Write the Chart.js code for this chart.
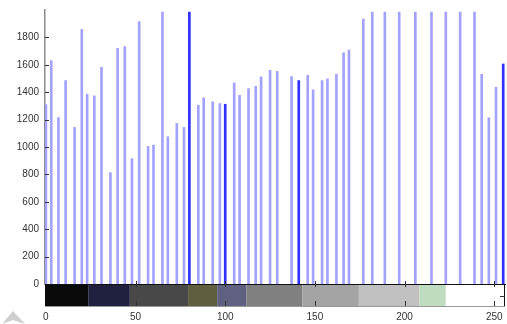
<!DOCTYPE html>
<html><head><meta charset="utf-8">
<script src="https://cdn.jsdelivr.net/npm/chart.js@4.4.0/dist/chart.umd.min.js"></script>
<style>html,body{margin:0;padding:0;background:#fff}#wrap{width:507px;height:324px;position:relative}</style>
</head><body><div id="wrap"><canvas id="c"></canvas></div>
<script>
// Gray levels that occur in the image and their pixel counts (clipped bars read as top of axis)
const grayLevels = [0,3,7,11,16,20,23,27,31,36,40,44,48,52,57,60,65,68,73,77,80,85,88,93,97,100,105,108,113,117,120,125,129,137,141,146,149,154,157,162,166,169,177,182,189,197,206,215,223,231,239,243,247,251,255];
const pixelCounts = [1310,1630,1215,1485,1143,1858,1385,1373,1582,813,1720,1732,915,1916,1004,1014,1985,1075,1172,1143,1985,1305,1359,1330,1317,1312,1468,1378,1426,1443,1512,1560,1552,1514,1485,1523,1417,1485,1497,1531,1688,1708,1934,1985,1985,1985,1985,1985,1985,1985,1985,1531,1213,1436,1606];
const highlightedLevels = [80,100,141,255];
const xTickValues = [0,50,100,150,200,250];
const yTickValues = [0,200,400,600,800,1000,1200,1400,1600,1800];
// colour bar under the axis: level boundaries and colours
const colorbarStops = [-0.5,23.6,46.8,79.3,95.5,111.9,143.1,174.5,208.2,223,256];
const colorbarColors = ['#0a0a0a','#20203f','#484848','#5f5f40','#606080','#808080','#a4a4a4','#c0c0c0','#c0dcc0','#ffffff'];

const points = grayLevels.map((g,i)=>({x:g,y:pixelCounts[i]}));
const colors = grayLevels.map(g=>highlightedLevels.includes(g)?'#3030ff':'#a3a3ff');

const deco = {
  id:'deco',
  afterDatasetsDraw(chart){
    const ctx=chart.ctx, xs=chart.scales.x, ys=chart.scales.y, ca=chart.chartArea;
    ctx.save();
    ctx.strokeStyle='#333'; ctx.lineWidth=1;
    yTickValues.forEach(v=>{
      const y=Math.round(ys.getPixelForValue(v))+0.5;
      ctx.beginPath(); ctx.moveTo(ca.left,y); ctx.lineTo(ca.left+4,y); ctx.stroke();
    });
    const top=ca.bottom, h=22;
    for(let i=0;i<colorbarColors.length;i++){
      const x0=xs.getPixelForValue(colorbarStops[i]);
      const x1=xs.getPixelForValue(colorbarStops[i+1]);
      ctx.fillStyle=colorbarColors[i];
      ctx.fillRect(x0,top,x1-x0,h);
    }
    ctx.strokeStyle='#111'; ctx.lineWidth=1;
    ctx.beginPath(); ctx.moveTo(ca.left,top+0.5); ctx.lineTo(ca.right,top+0.5); ctx.stroke();
    ctx.beginPath(); ctx.moveTo(ca.right-0.5,top); ctx.lineTo(ca.right-0.5,top+h); ctx.stroke();
    ctx.strokeStyle='#999';
    ctx.beginPath(); ctx.moveTo(ca.left,top+h+0.5); ctx.lineTo(ca.right,top+h+0.5); ctx.stroke();
    ctx.strokeStyle='#333';
    xTickValues.forEach(v=>{
      if(v===0) return;
      const x=Math.round(xs.getPixelForValue(v))+0.5;
      ctx.beginPath(); ctx.moveTo(x,top-3); ctx.lineTo(x,top+3); ctx.stroke();
      ctx.beginPath(); ctx.moveTo(x,top+h-5); ctx.lineTo(x,top+h); ctx.stroke();
    });
    ctx.beginPath(); ctx.moveTo(ca.right-5,top+12.5); ctx.lineTo(ca.right,top+12.5); ctx.stroke();
    ctx.fillStyle='#cfcfcf';
    ctx.beginPath(); ctx.moveTo(2,324); ctx.lineTo(13,311); ctx.lineTo(25,324); ctx.lineTo(13,320); ctx.closePath(); ctx.fill();
    ctx.restore();
  }
};

new Chart(document.getElementById('c'),{
  type:'bar',
  data:{datasets:[{data:points,backgroundColor:colors,barThickness:2,borderWidth:0}]},
  options:{
    responsive:true, maintainAspectRatio:false, animation:false,
    layout:{padding:{left:0,top:10,right:2,bottom:0}},
    plugins:{legend:{display:false},tooltip:{enabled:false}},
    scales:{
      x:{type:'linear',min:-0.5,max:256,offset:false,
        afterBuildTicks(s){s.ticks=xTickValues.map(v=>({value:v}));},
        afterFit(s){s.height=40;s.paddingLeft=0;s.paddingRight=0;},
        grid:{display:false,drawTicks:false},
        border:{display:true,color:'#111'},
        ticks:{padding:27,color:'#333',font:{family:'Liberation Sans',size:10},maxRotation:0,autoSkip:false,
          callback:v=>String(v)}},
      y:{min:0,max:2000,
        afterBuildTicks(s){s.ticks=yTickValues.map(v=>({value:v}));},
        afterFit(s){s.width=45;s.paddingTop=0;s.paddingBottom=0;},
        grid:{display:false,drawTicks:false},
        border:{display:true,color:'#8c8c8c',width:1.5},
        ticks:{padding:6,color:'#333',font:{family:'Liberation Sans',size:10},callback:v=>String(v)}}
    }
  },
  plugins:[deco]
});
</script></body></html>
